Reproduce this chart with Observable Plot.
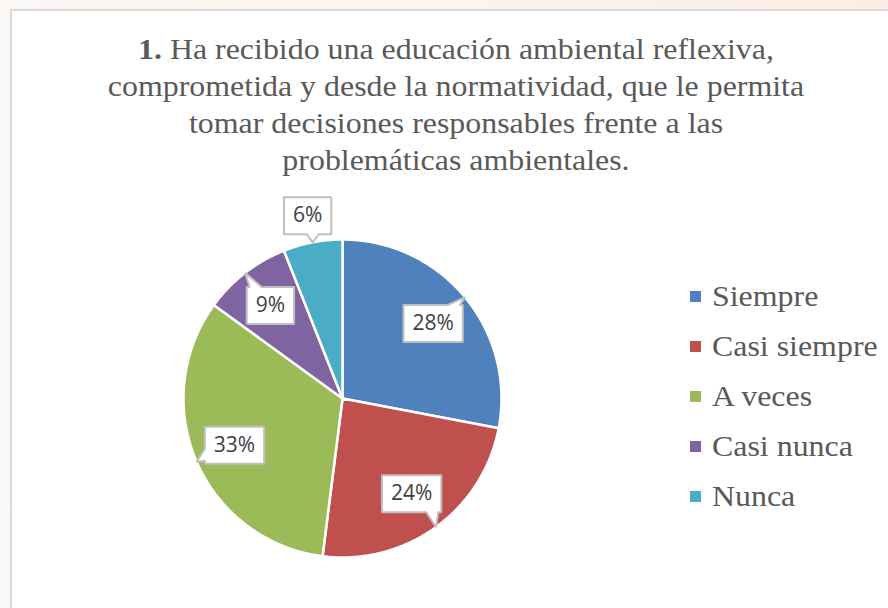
<!DOCTYPE html>
<html>
<head>
<meta charset="utf-8">
<script src="https://cdn.jsdelivr.net/npm/d3@7"></script>
<script src="https://cdn.jsdelivr.net/npm/@observablehq/plot@0.6"></script>
<style>
html, body { margin: 0; padding: 0; }
body { width: 888px; height: 608px; overflow: hidden; position: relative;
  background: linear-gradient(90deg, #fbf7f4 0%, #fcf3ec 60%, #fbede3 100%); }
#box { position: absolute; left: 10px; top: 9px; width: 900px; height: 640px; background: #fff;
  border: 2px solid #d9d9d9; box-sizing: border-box; }
#title { position: absolute; left: 10px; top: 31px; width: 892px; text-align: center;
  font-family: "Liberation Serif", "Times New Roman", serif; font-size: 29px; line-height: 37px; color: #595959;
  transform: scaleX(1.1); transform-origin: 446px 0; }
#title b { font-weight: bold; }
#chart { position: absolute; left: 0; top: 190px; }
#legend { position: absolute; left: 690px; top: 271px; font-family: "Liberation Serif", "Times New Roman", serif;
  font-size: 29px; line-height: 50px; color: #595959; }
.row { position: relative; height: 50px; white-space: nowrap; }
.sw { position: absolute; left: 0; top: 19.5px; width: 11px; height: 11px; }
.lt { position: absolute; left: 22px; top: 0; transform: scaleX(1.1); transform-origin: 0 0; }
</style>
</head>
<body>
<div id="box"></div>
<div id="title"><b>1.</b> Ha recibido una educación ambiental reflexiva,<br>comprometida y desde la normatividad, que le permita<br>tomar decisiones responsables frente a las<br>problemáticas ambientales.</div>
<div id="chart"></div>
<div id="legend"></div>
<script>
const categories = ["Siempre", "Casi siempre", "A veces", "Casi nunca", "Nunca"];
const values = [28, 24, 33, 9, 6];
const colors = ["#4f81bd", "#c0504d", "#9bbb59", "#8064a2", "#4bacc6"];

const W = 888, H = 418;
const mL = 183, mR = 387, mT = 49, mB = 51;
const k = (W - mL - mR) / 2; // pixels per data unit

const total = d3.sum(values);
let acc = 0;
const slices = categories.map((c, i) => {
  const a0 = acc / total * 2 * Math.PI;
  acc += values[i];
  const a1 = acc / total * 2 * Math.PI;
  return {c, v: values[i], a0, a1};
});

// slice polygons
const pts = [];
for (const s of slices) {
  pts.push({c: s.c, x: 0, y: 0});
  const n = Math.max(2, Math.ceil((s.a1 - s.a0) / 0.01));
  for (let j = 0; j <= n; j++) {
    const a = s.a0 + (s.a1 - s.a0) * j / n;
    pts.push({c: s.c, x: Math.sin(a), y: Math.cos(a)});
  }
  pts.push({c: s.c, x: 0, y: 0});
}

// callout labels
const ctx = document.createElement("canvas").getContext("2d");
const labelFont = "21px 'Open Sans'";
ctx.font = labelFont;
const pad = 9, bh = 37, bw = 12, edge = 3;
const labels = [];
const calloutPts = [];
slices.forEach((s, i) => {
  const m = (s.a0 + s.a1) / 2;
  const frac = s.v / total;
  const rf = frac < 0.08 ? 1.17 : 0.74;
  const text = Math.round(frac * 100) + "%";
  const lx = rf * Math.sin(m) * k, ly = -rf * Math.cos(m) * k;
  const tx = Math.sin(m) * k, ty = -Math.cos(m) * k;
  const w = ctx.measureText(text).width + 2 * pad;
  const hw = w / 2, hh = bh / 2;
  const x0 = lx - hw, x1 = lx + hw, y0 = ly - hh, y1 = ly + hh;
  const dx = tx - lx, dy = ty - ly;
  const clamp = (v, lo, hi) => Math.max(lo, Math.min(hi, v));
  let poly;
  if (Math.abs(dy) / hh > Math.abs(dx) / hw) {
    const p = clamp(tx, x0 + edge + bw / 2, x1 - edge - bw / 2);
    const b0 = p - bw / 2, b1 = p + bw / 2;
    if (dy < 0) poly = [[x0, y0], [b0, y0], [tx, ty], [b1, y0], [x1, y0], [x1, y1], [x0, y1], [x0, y0]];
    else poly = [[x0, y0], [x1, y0], [x1, y1], [b1, y1], [tx, ty], [b0, y1], [x0, y1], [x0, y0]];
  } else {
    const p = clamp(ty, y0 + edge + bw / 2, y1 - edge - bw / 2);
    const b0 = p - bw / 2, b1 = p + bw / 2;
    if (dx > 0) poly = [[x0, y0], [x1, y0], [x1, b0], [tx, ty], [x1, b1], [x1, y1], [x0, y1], [x0, y0]];
    else poly = [[x0, y0], [x1, y0], [x1, y1], [x0, y1], [x0, b1], [tx, ty], [x0, b0], [x0, y0]];
  }
  for (const [px, py] of poly) calloutPts.push({id: s.c, x: px / k, y: -py / k});
  labels.push({c: s.c, text, x: lx / k, y: -ly / k});
});

const chart = Plot.plot({
  width: W, height: H,
  marginLeft: mL, marginRight: mR, marginTop: mT, marginBottom: mB,
  x: {domain: [-1, 1], axis: null},
  y: {domain: [-1, 1], axis: null},
  color: {domain: categories, range: colors},
  style: {background: "transparent", overflow: "visible"},
  marks: [
    Plot.line(pts, {x: "x", y: "y", z: "c", fill: "c", stroke: "white", strokeWidth: 2.5, strokeLinejoin: "round", curve: "linear"}),
    Plot.line(calloutPts, {x: "x", y: "y", z: "id", fill: "white", stroke: "#bfbfbf", strokeWidth: 2, strokeLinejoin: "miter", curve: "linear"}),
    Plot.text(labels, {x: "x", y: "y", text: "text", fontSize: 21, fontFamily: "Open Sans", fill: "#404040"})
  ]
});
document.getElementById("chart").appendChild(chart);

const legend = d3.select("#legend");
categories.forEach((c, i) => {
  const row = legend.append("div").attr("class", "row");
  row.append("span").attr("class", "sw").style("background", colors[i]);
  row.append("span").attr("class", "lt").text(c);
});
</script>
</body>
</html>
